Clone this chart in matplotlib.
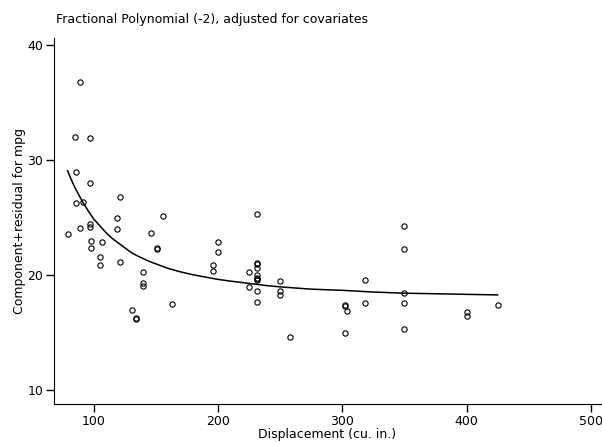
import numpy as np
import matplotlib
matplotlib.use("Agg")
import matplotlib.pyplot as plt

plt.rcParams['font.family'] = ['DejaVu Sans']

# component+residual points (displacement, cpr)
displ = [89, 85, 97, 86, 97, 121, 86, 91, 156, 119, 97, 97, 89, 79, 119, 146,
         151, 151, 98, 107, 98, 105, 105, 121, 140, 140, 140, 131, 134, 134, 163,
         231, 200, 200, 196, 196, 231, 231, 231, 225, 231, 231, 231, 231, 250,
         225, 231, 250, 250, 231, 258,
         350, 350, 318, 350, 302, 302, 304, 318, 350, 302, 350, 400, 400, 425]
cpr = [36.8, 32.0, 31.9, 29.0, 28.0, 26.8, 26.3, 26.4, 25.2, 25.0, 24.5, 24.2,
       24.1, 23.6, 24.0, 23.7, 22.4, 22.3, 23.0, 22.9, 22.4, 21.6, 20.9, 21.2,
       20.3, 19.3, 19.1, 17.0, 16.3, 16.2, 17.5,
       25.3, 22.9, 22.0, 20.9, 20.4, 21.1, 21.0, 20.6, 20.3, 20.0, 19.8, 19.7,
       19.6, 19.5, 19.0, 18.6, 18.6, 18.3, 17.7, 14.6,
       24.3, 22.3, 19.6, 18.5, 17.4, 17.3, 16.9, 17.6, 17.6, 15.0, 15.3,
       16.8, 16.5, 17.4]

# fitted fractional polynomial curve
fit_x = [79, 82, 85, 88, 91, 95, 100, 105, 110, 115, 120, 125, 130, 135, 140,
         145, 150, 155, 160, 170, 180, 190, 200, 210, 225, 240, 250, 275, 300,
         325, 350, 375, 400, 425]
fit_y = [29.1, 28.3, 27.6, 27.0, 26.4, 25.7, 24.9, 24.3, 23.7, 23.2, 22.8,
         22.4, 22.0, 21.7, 21.45, 21.2, 21.0, 20.8, 20.6, 20.3, 20.05, 19.85,
         19.65, 19.5, 19.3, 19.1, 19.0, 18.8, 18.7, 18.55, 18.45, 18.4, 18.35,
         18.3]

fig = plt.figure(figsize=(6.02, 4.42), dpi=100)
ax = fig.add_axes([0.09, 0.086, 0.908, 0.828])

ax.plot(displ, cpr, 'o', ms=3.8, mfc='none', mec='black', mew=0.8)
ax.plot(fit_x, fit_y, color='black', lw=1.1)

ax.set_xlim(68.2, 508)
ax.set_ylim(8.82, 40.63)
ax.set_xticks([100, 200, 300, 400, 500])
ax.set_yticks([10, 20, 30, 40])
ax.spines['top'].set_visible(False)
ax.spines['right'].set_visible(False)
ax.tick_params(direction='out', length=6, width=1, labelsize=9, pad=2)
ax.set_xlabel("Displacement (cu. in.)", fontsize=9, labelpad=0)
ax.set_ylabel("Component+residual for mpg", fontsize=9, labelpad=1)
fig.text(0.093, 0.957, "Fractional Polynomial (-2), adjusted for covariates",
         fontsize=9, ha='left', va='center')

fig.savefig("out.png", dpi=100)
